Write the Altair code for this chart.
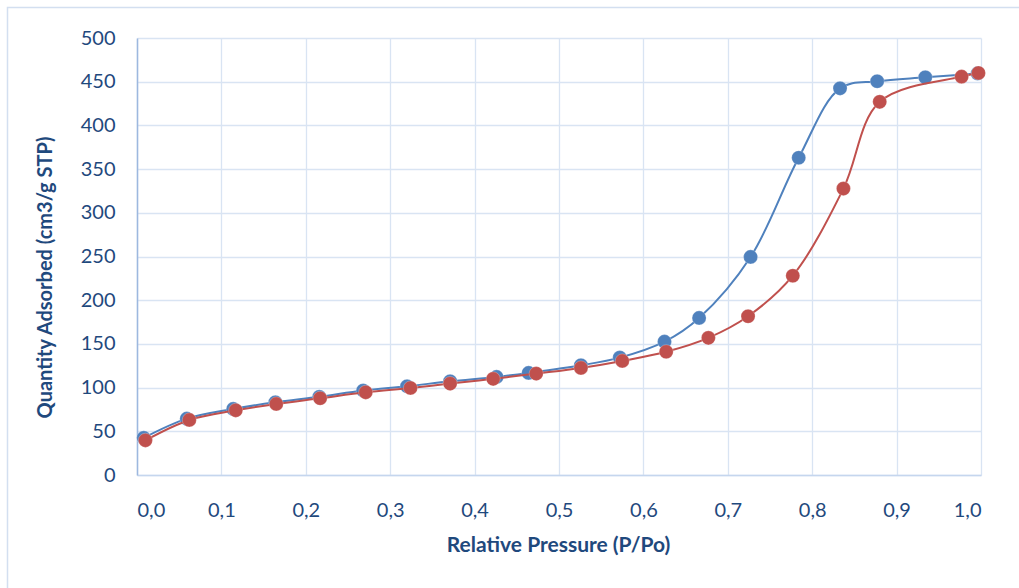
import altair as alt
import pandas as pd

# Adsorption (blue) branch
ads_p = [0.008, 0.059, 0.114, 0.164, 0.216, 0.268, 0.320, 0.371, 0.426, 0.464,
         0.526, 0.572, 0.625, 0.666, 0.727, 0.784, 0.833, 0.877, 0.934, 0.996]
ads_q = [42.5, 64.5, 75.6, 83.2, 89.4, 96.6, 101.5, 107.2, 112.2, 116.8,
         125.5, 134.3, 152.6, 179.7, 249.5, 363.0, 442.4, 450.5, 455.0, 459.5]

# Desorption (red) branch
des_p = [0.010, 0.062, 0.117, 0.165, 0.217, 0.271, 0.324, 0.371, 0.422, 0.473,
         0.526, 0.575, 0.627, 0.677, 0.724, 0.777, 0.837, 0.880, 0.977, 0.997]
des_q = [39.7, 63.0, 74.0, 81.3, 87.8, 94.6, 99.6, 104.6, 110.0, 116.0,
         122.5, 130.5, 141.0, 156.9, 181.6, 228.0, 327.7, 427.0, 455.8, 460.0]

BLUE = "#4F81BD"
RED = "#C0504D"
TEXT = "#1F497D"

ads = pd.DataFrame({"p": ads_p, "q": ads_q})
des = pd.DataFrame({"p": des_p, "q": des_q})

x_enc = alt.X(
    "p:Q",
    scale=alt.Scale(domain=[0, 1], nice=False, zero=False),
    axis=alt.Axis(
        values=[i / 10 for i in range(11)],
        labelExpr="replace(format(datum.value, '.1f'), '.', ',')",
        title="Relative Pressure (P/Po)",
        titleX=421, titleY=70, titleBaseline="middle", titleFontSize=21,
        labelPadding=25,
        domainColor="#C5D6EE",
    ),
)
y_enc = alt.Y(
    "q:Q",
    scale=alt.Scale(domain=[0, 500], nice=False),
    axis=alt.Axis(
        values=list(range(0, 501, 50)),
        title="Quantity Adsorbed (cm3/g STP)",
        titleX=-92, titleY=239, titleBaseline="middle", titleAngle=270,
        titleFontSize=20,
        labelPadding=22,
        domainColor="#9DB8DF",
    ),
)

frame = alt.Chart(pd.DataFrame({"a": [0]})).mark_rect(
    fillOpacity=0, stroke="#D3DFF0", strokeWidth=1.5
).encode(
    x=alt.value(-129.5), x2=alt.value(950), y=alt.value(-30.5), y2=alt.value(620)
)

def branch(df, color):
    line = alt.Chart(df).mark_line(
        color=color, strokeWidth=2, interpolate="catmull-rom"
    ).encode(x=x_enc, y=y_enc)
    pts = alt.Chart(df).mark_circle(
        color=color, size=200, opacity=1, stroke="#FFFFFF", strokeOpacity=0.25, strokeWidth=1
    ).encode(x=x_enc, y=y_enc)
    return [line, pts]

chart = alt.layer(
    frame, *branch(ads, BLUE), *branch(des, RED)
).properties(
    width=844, height=437,
    autosize=alt.AutoSizeParams(type="none"),
    padding={"left": 137, "top": 38, "right": 38, "bottom": 113},
).configure_view(
    stroke=None
).configure_axis(
    grid=True, gridColor="#D9E4F3", gridWidth=1.3,
    ticks=False, domainWidth=1.5,
    labelFont="Lato", labelFontSize=20, labelColor=TEXT,
    titleFont="Lato", titleFontWeight="bold", titleColor=TEXT,
).configure_axisY(
    labelAlign="right"
)

chart.save("out.html", embed_options={"renderer": "svg", "actions": False})
